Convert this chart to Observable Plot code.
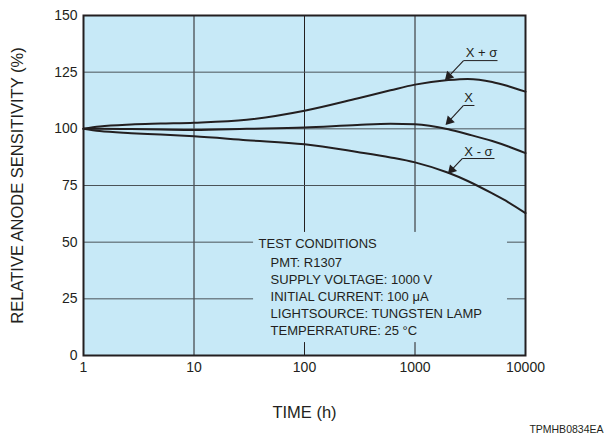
<!DOCTYPE html>
<html>
<head>
<meta charset="utf-8">
<script src="https://cdn.jsdelivr.net/npm/d3@7"></script>
<script src="https://cdn.jsdelivr.net/npm/@observablehq/plot@0.6"></script>
<style>
  html, body { margin: 0; padding: 0; background: #fff; }
  svg { display: block; }
</style>
</head>
<body>
<div id="chart"></div>
<script>
// ---- data ----
const timeH = [1, 1.4, 2.7, 5, 10, 30, 100, 300, 600, 1000, 2000, 3000, 5000, 7000, 10000];
const plusSigma  = [100, 101.0, 101.9, 102.3, 102.7, 104.0, 108.0, 113.4, 117.0, 119.5, 121.5, 122.0, 120.7, 118.8, 116.4];
const mean       = [100, 100.0, 99.9, 99.7, 99.5, 100.0, 100.6, 101.7, 102.2, 102.0, 99.8, 97.6, 94.6, 92.2, 89.3];
const minusSigma = [100, 99.0, 98.1, 97.5, 96.7, 95.0, 93.2, 89.8, 87.4, 85.2, 80.6, 77.0, 71.5, 67.6, 62.8];

const seriesNames = ["X + σ", "X", "X - σ"];
const seriesValues = [plusSigma, mean, minusSigma];

const xTicks = [1, 10, 100, 1000, 10000];
const yTicks = [0, 25, 50, 75, 100, 125, 150];
const xGrid = [10, 100, 1000];
const yGrid = [25, 50, 75, 100, 125];

// curve labels and leader lines (data units)
const labelT = [4000, 3050, 3755];
const labelV = [133.7, 113.8, 90.0];
const underT1 = [2750, 2750, 2675];
const underT2 = [5580, 3450, 5240];
const underV = [130.1, 110.3, 86.9];
const tipT = [1930, 1955, 2050];
const tipV = [122.2, 102.5, 80.9];

// test conditions box (area where grid is hidden)
const boxT = [34.6, 6870];
const boxV = [5.7, 54.3];
const condHeader = "TEST CONDITIONS";
const condLines = [
  "PMT: R1307",
  "SUPPLY VOLTAGE: 1000 V",
  "INITIAL CURRENT: 100 μA",
  "LIGHTSOURCE: TUNGSTEN LAMP",
  "TEMPERRATURE: 25 °C"
];
const condT = 38.4;
const condHeaderV = 49.4;
const condLinesV = 26.5;

const xLabel = "TIME (h)";
const yLabel = "RELATIVE ANODE SENSITIVITY (%)";
const footnote = "TPMHB0834EA";

// ---- build ----
const rows = [];
seriesNames.forEach((name, i) => {
  timeH.forEach((t, j) => rows.push({series: name, t, v: seriesValues[i][j]}));
});
const ann = seriesNames.map((name, i) => ({
  name, lt: labelT[i], lv: labelV[i], u1: underT1[i], u2: underT2[i], uv: underV[i], tt: tipT[i], tv: tipV[i]
}));

const ink = "#231f20";
const bg = "#c7e9f7";
const font = "Liberation Sans, Arial, Helvetica, sans-serif";

const chart = Plot.plot({
  width: 605,
  height: 436,
  marginLeft: 83,
  marginRight: 80,
  marginTop: 15,
  marginBottom: 81,
  style: {fontFamily: font, color: ink, background: "#fff"},
  x: {type: "log", domain: [1, 10000]},
  y: {domain: [0, 150]},
  marks: [
    Plot.frame({fill: bg, stroke: null}),
    Plot.ruleX(xGrid, {stroke: ink, strokeWidth: 1}),
    Plot.ruleY(yGrid, {stroke: "#4a5358", strokeWidth: 1}),
    Plot.rect([0], {x1: () => boxT[0], x2: () => boxT[1], y1: () => boxV[0], y2: () => boxV[1], fill: bg}),
    Plot.line(rows, {x: "t", y: "v", z: "series", stroke: ink, strokeWidth: 2, curve: "monotone-x"}),
    Plot.link(ann, {x1: "u1", x2: "u2", y1: "uv", y2: "uv", stroke: ink, strokeWidth: 1}),
    Plot.link(ann, {x1: "u1", y1: "uv", x2: "tt", y2: "tv", stroke: ink, strokeWidth: 1.1}),
    Plot.dot(ann, {x: "tt", y: "tv", symbol: "triangle", r: 3.6, rotate: 223, dx: 2.2, dy: -2.3, fill: ink, stroke: null}),
    Plot.text(ann, {x: "lt", y: "lv", text: "name", fontSize: 13, fill: ink}),
    Plot.text([condHeader], {x: () => condT, y: () => condHeaderV, text: d => d, textAnchor: "start", fontSize: 13, fill: ink}),
    Plot.text([condLines.join("\n")], {x: () => condT, y: () => condLinesV, text: d => d, dx: 12, textAnchor: "start", lineAnchor: "middle", lineHeight: 1.32, fontSize: 13, fill: ink}),
    Plot.frame({stroke: ink, strokeWidth: 2}),
    Plot.axisX(xTicks, {tickSize: 0, tickPadding: 7, tickFormat: d => String(d), fontSize: 14, label: null, fill: ink}),
    Plot.axisY(yTicks, {tickSize: 0, tickPadding: 6, fontSize: 14, label: null, fill: ink}),
    Plot.text([yLabel], {frameAnchor: "left", dx: -66, rotate: -90, text: d => d, fontSize: 16.5, fill: ink, textAnchor: "middle", lineAnchor: "middle"}),
    Plot.text([xLabel], {frameAnchor: "bottom", dy: 57, text: d => d, fontSize: 16.5, fill: ink, lineAnchor: "middle"}),
    Plot.text([footnote], {frameAnchor: "bottom-right", dx: 78, dy: 74, text: d => d, fontSize: 10.5, fill: ink, textAnchor: "end", lineAnchor: "middle"})
  ]
});
document.getElementById("chart").appendChild(chart);
</script>
</body>
</html>
